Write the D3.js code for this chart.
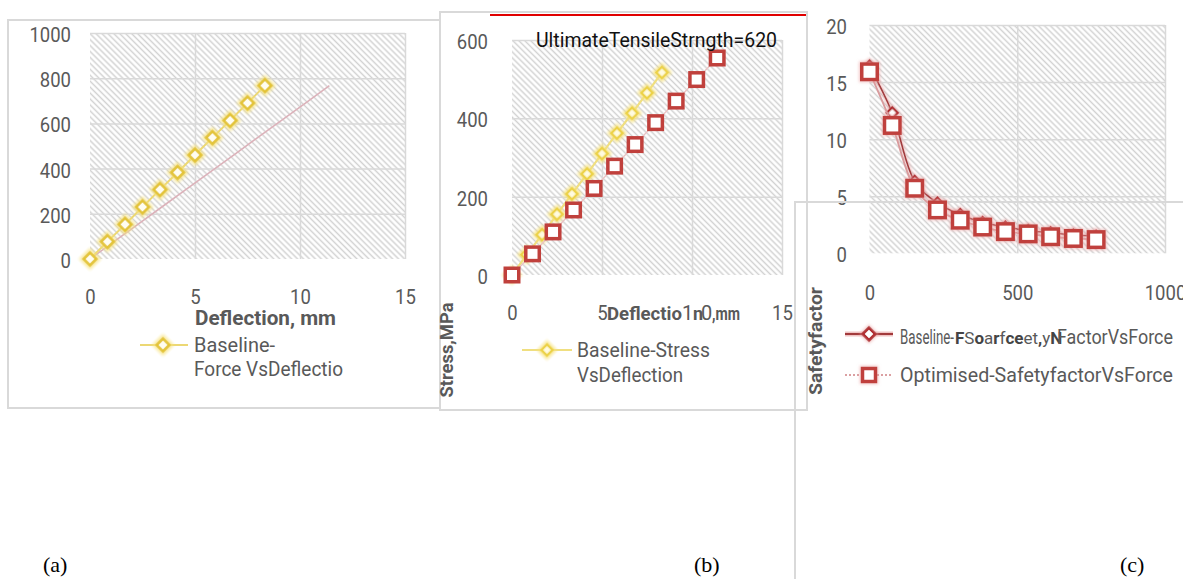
<!DOCTYPE html>
<html>
<head>
<meta charset="utf-8">
<script src="https://cdn.jsdelivr.net/npm/d3@7"></script>
<style>
  body { margin: 0; background: #fff; }
  svg text { font-family: Roboto, "Open Sans", sans-serif; }
</style>
</head>
<body>
<svg id="fig" width="1183" height="579"></svg>
<script>
// values
var deflBase = [0, 0.83, 1.67, 2.5, 3.33, 4.17, 5, 5.83, 6.67, 7.5, 8.33];
var deflOpt = [0, 1.14, 2.28, 3.42, 4.56, 5.7, 6.84, 7.98, 9.12, 10.26, 11.4];
var force = [0, 77, 153, 230, 307, 383, 460, 537, 613, 690, 767];
var stressBase = [0, 52, 103, 155, 207, 258, 310, 362, 413, 465, 517];
var stressOpt = [0, 54, 110, 166, 221, 278, 333, 389, 444, 499, 554];
var sfBase = [16.4, 12.3, 6.3, 4.4, 3.4, 2.7, 2.3, 2.0, 1.8, 1.6, 1.5];
var sfOpt = [15.9, 11.2, 5.7, 3.8, 2.9, 2.3, 1.9, 1.7, 1.45, 1.3, 1.2];

var deflTicks = [0, 5, 10, 15];
var forceTicks = [0, 200, 400, 600, 800, 1000];
var stressTicks = [0, 200, 400, 600];
var forceTicksC = [0, 500, 1000];
var sfTicks = [0, 5, 10, 15, 20];

var svg = d3.select('#fig');
var defs = svg.append('defs');

// wide downward diagonal hatch (excel style)
defs.append('pattern')
  .attr('id', 'hatch')
  .attr('patternUnits', 'userSpaceOnUse')
  .attr('width', 4.2).attr('height', 4.2)
  .attr('patternTransform', 'rotate(-45)')
  .append('line')
  .attr('x1', 2.1).attr('y1', 0).attr('x2', 2.1).attr('y2', 4.2)
  .attr('stroke', '#d2d2d2').attr('stroke-width', 1.5);

function glow(id, color, r, op) {
  var f = defs.append('filter').attr('id', id)
    .attr('x', '-60%').attr('y', '-60%').attr('width', '220%').attr('height', '220%');
  f.append('feMorphology').attr('in', 'SourceAlpha').attr('operator', 'dilate').attr('radius', r).attr('result', 'd');
  f.append('feGaussianBlur').attr('in', 'd').attr('stdDeviation', r).attr('result', 'b');
  f.append('feFlood').attr('flood-color', color).attr('flood-opacity', op).attr('result', 'c');
  f.append('feComposite').attr('in', 'c').attr('in2', 'b').attr('operator', 'in').attr('result', 'g');
  var m = f.append('feMerge');
  m.append('feMergeNode').attr('in', 'g');
  m.append('feMergeNode').attr('in', 'SourceGraphic');
}
glow('glowY', '#f7e27a', 1.6, 0.75);
glow('glowR', '#eba3a3', 1.4, 0.6);

var grey = '#595959';
var gridCol = '#d9d9d9';

function squeeze(sel, perChar) {
  sel.attr('textLength', function() { return this.textContent.length * perChar; })
    .attr('lengthAdjust', 'spacingAndGlyphs');
}

// hatched plot area, grid and tick labels
function makePlot(g, o) {
  var x = d3.scaleLinear().domain(o.xDom).range([o.left, o.right]);
  var y = d3.scaleLinear().domain(o.yDom).range([o.bottom, o.top]);

  g.append('rect')
    .attr('x', o.left).attr('y', o.top)
    .attr('width', o.right - o.left).attr('height', o.bottom - o.top)
    .attr('fill', 'url(#hatch)');

  g.append('g')
    .attr('transform', 'translate(' + o.left + ',0)')
    .call(d3.axisLeft(y).tickValues(o.yTicks.slice(1)).tickSize(-(o.right - o.left)).tickFormat(''))
    .call(function(a) { a.select('.domain').remove(); })
    .selectAll('line').attr('stroke', gridCol).attr('stroke-width', 1.5);

  g.append('g')
    .attr('transform', 'translate(0,' + o.bottom + ')')
    .call(d3.axisBottom(x).tickValues(o.xTicks.slice(1)).tickSize(-(o.bottom - o.top)).tickFormat(''))
    .call(function(a) { a.select('.domain').remove(); })
    .selectAll('line').attr('stroke', gridCol).attr('stroke-width', 1.5);

  var ya = g.append('g')
    .attr('transform', 'translate(' + o.yLabelX + ',0)')
    .call(d3.axisLeft(y).tickValues(o.yTicks).tickFormat(d3.format('d')).tickSize(0).tickPadding(0))
    .attr('font-size', 20).attr('font-family', null);
  ya.select('.domain').remove();
  ya.selectAll('text').attr('fill', grey).attr('dy', '0.42em').call(squeeze, 10.4);

  var xa = g.append('g')
    .attr('transform', 'translate(0,' + o.xBase + ')')
    .call(d3.axisBottom(x).tickValues(o.xTicks).tickFormat(d3.format('d')).tickSize(0).tickPadding(0))
    .attr('font-size', 20).attr('font-family', null);
  xa.select('.domain').remove();
  xa.selectAll('text').attr('fill', grey).attr('dy', 0).attr('y', 0).call(squeeze, 10.4);

  return {x: x, y: y, xAxis: xa};
}

function diamonds(g, pts, size, stroke, fill, sw, filter) {
  g.selectAll(null).data(pts).enter().append('path')
    .attr('d', d3.symbol().type(d3.symbolSquare).size(size))
    .attr('transform', function(d) { return 'translate(' + d[0] + ',' + d[1] + ') rotate(45)'; })
    .attr('fill', fill).attr('stroke', stroke).attr('stroke-width', sw)
    .attr('filter', filter);
}

function squares(g, pts, side, stroke, filter) {
  g.selectAll(null).data(pts).enter().append('rect')
    .attr('x', function(d) { return d[0] - side / 2; })
    .attr('y', function(d) { return d[1] - side / 2; })
    .attr('width', side).attr('height', side)
    .attr('fill', '#fff').attr('stroke', stroke).attr('stroke-width', 3.5)
    .attr('filter', filter);
}

function addText(g, txt, x, y, o) {
  var t = g.append('text').attr('x', x).attr('y', y).text(txt)
    .attr('font-size', o.size || 20).attr('fill', o.fill || grey);
  if (o.bold) t.attr('font-weight', 'bold');
  if (o.len) t.attr('textLength', o.len).attr('lengthAdjust', 'spacingAndGlyphs');
  if (o.anchor) t.attr('text-anchor', o.anchor);
  if (o.rot) t.attr('transform', 'rotate(-90,' + x + ',' + y + ')');
  return t;
}

// ---------- (a) Force vs deflection ----------
var ga = svg.append('g');
ga.append('rect').attr('x', 8).attr('y', 20).attr('width', 432).attr('height', 388)
  .attr('fill', '#fff').attr('stroke', gridCol).attr('stroke-width', 2);

var pa = makePlot(ga, {
  left: 90, right: 405, top: 33, bottom: 259,
  xDom: [0, 15], yDom: [0, 1000], xTicks: deflTicks, yTicks: forceTicks,
  yLabelX: 71, xBase: 304
});

var optA = deflOpt.map(function(d, i) { return [pa.x(d), pa.y(force[i])]; });
var baseA = deflBase.map(function(d, i) { return [pa.x(d), pa.y(force[i])]; });

ga.append('path').attr('d', d3.line()(optA))
  .attr('fill', 'none').attr('stroke', '#dcb2ba').attr('stroke-width', 1.6);
ga.append('path').attr('d', d3.line()(baseA))
  .attr('fill', 'none').attr('stroke', '#ecd874').attr('stroke-width', 2);
diamonds(ga, baseA, 80, '#e2c234', '#fffdf0', 2.6, 'url(#glowY)');

addText(ga, 'Deflection, mm', 195, 325, {bold: true, len: 141});
ga.append('line').attr('x1', 140).attr('x2', 188).attr('y1', 345).attr('y2', 345)
  .attr('stroke', '#ecd874').attr('stroke-width', 2);
diamonds(ga, [[163, 345]], 80, '#e2c234', '#fffdf0', 2.6, 'url(#glowY)');
addText(ga, 'Baseline-', 194, 352, {len: 81});
addText(ga, 'Force VsDeflectio', 194, 376, {len: 149});

// ---------- (b) Stress vs deflection ----------
var gb = svg.append('g');
gb.append('rect').attr('x', 440).attr('y', 12).attr('width', 367).attr('height', 398)
  .attr('fill', '#fff').attr('stroke', gridCol).attr('stroke-width', 2);

var pb = makePlot(gb, {
  left: 512, right: 782, top: 40, bottom: 275,
  xDom: [0, 15], yDom: [0, 600], xTicks: deflTicks, yTicks: stressTicks,
  yLabelX: 488, xBase: 320
});

// the "10" label is split around the axis title in the original
pb.xAxis.selectAll('text').filter(function(d) { return d === 10; })
  .text(null).attr('textLength', null)
  .call(function(t) {
    t.append('tspan').attr('x', -5).text('1');
    t.append('tspan').attr('x', 14).text('0');
  });

var baseB = deflBase.map(function(d, i) { return [pb.x(d), pb.y(stressBase[i])]; });
var optB = deflOpt.map(function(d, i) { return [pb.x(d), pb.y(stressOpt[i])]; });

gb.append('path').attr('d', d3.line()(baseB))
  .attr('fill', 'none').attr('stroke', '#f0df80').attr('stroke-width', 2.2);
diamonds(gb, baseB, 62, '#ecd24a', '#fffbe0', 2.4, 'url(#glowY)');
gb.append('path').attr('d', d3.line()(optB))
  .attr('fill', 'none').attr('stroke', '#ebc4c4').attr('stroke-width', 1.4);
squares(gb, optB, 13.5, '#c0403c', null);

addText(gb, 'UltimateTensileStrngth=620', 536, 47, {fill: '#111', len: 241});

var xtb = gb.append('text').attr('y', 320).attr('font-size', 18)
  .attr('font-weight', 'bold').attr('fill', grey);
xtb.append('tspan').attr('x', 607).attr('textLength', 75).attr('lengthAdjust', 'spacingAndGlyphs').text('Deflectio');
xtb.append('tspan').attr('x', 693).text('n');
xtb.append('tspan').attr('x', 712).attr('textLength', 28).attr('lengthAdjust', 'spacingAndGlyphs').text(',mm');

addText(gb, 'Stress,MPa', 453, 350, {bold: true, len: 95, size: 19, anchor: 'middle', rot: true});

gb.append('line').attr('x1', 522).attr('x2', 572).attr('y1', 350).attr('y2', 350)
  .attr('stroke', '#f0df80').attr('stroke-width', 2);
diamonds(gb, [[547, 350]], 62, '#ecd24a', '#fffbe0', 2.4, 'url(#glowY)');
addText(gb, 'Baseline-Stress', 577, 357, {len: 133});
addText(gb, 'VsDeflection', 577, 382, {len: 106});

// ultimate tensile strength marker line
svg.append('line').attr('x1', 490).attr('x2', 806).attr('y1', 15).attr('y2', 15)
  .attr('stroke', '#e00000').attr('stroke-width', 2);

// ---------- (c) Safety factor vs force ----------
var gc = svg.append('g');
var pc = makePlot(gc, {
  left: 869.5, right: 1165, top: 25, bottom: 253.3,
  xDom: [0, 1000], yDom: [0, 20], xTicks: forceTicksC, yTicks: sfTicks,
  yLabelX: 847, xBase: 300
});

gc.append('path').attr('d', 'M795,579V202H1183')
  .attr('fill', 'none').attr('stroke', gridCol).attr('stroke-width', 2);

var baseC = force.map(function(d, i) { return [pc.x(d), pc.y(sfBase[i])]; });
var optC = force.map(function(d, i) { return [pc.x(d), pc.y(sfOpt[i])]; });
var curve = d3.line().curve(d3.curveCatmullRom.alpha(0.5));

gc.append('path').attr('d', curve(baseC))
  .attr('fill', 'none').attr('stroke', '#a23a3c').attr('stroke-width', 1.6)
  .attr('filter', 'url(#glowR)');
diamonds(gc, baseC, 60, '#b02e30', '#fff', 2.4, 'url(#glowR)');
gc.append('path').attr('d', curve(optC))
  .attr('fill', 'none').attr('stroke', '#d99a9c').attr('stroke-width', 1.8);
squares(gc, optC, 15.5, '#c0403c', 'url(#glowR)');

addText(gc, 'Safetyfactor', 822, 341, {bold: true, len: 108, size: 19, anchor: 'middle', rot: true});

// legend, first entry is interleaved with the "Force,N" axis title in the original
gc.append('line').attr('x1', 845).attr('x2', 893).attr('y1', 334).attr('y2', 334)
  .attr('stroke', '#f0c4c4').attr('stroke-width', 5);
gc.append('line').attr('x1', 845).attr('x2', 893).attr('y1', 334).attr('y2', 334)
  .attr('stroke', '#a23a3c').attr('stroke-width', 2);
diamonds(gc, [[869, 334]], 80, '#b02e30', '#fff', 2.8, 'url(#glowR)');

var mixed = [['F', 1], ['S', 0], ['o', 1], ['a', 0], ['r', 1], ['f', 0], ['c', 1], ['e', 1],
  ['e', 0], ['t', 0], [',', 1], ['y', 0], ['N', 1]];
var lg1 = gc.append('text').attr('x', 900).attr('y', 344).attr('font-size', 20).attr('fill', grey);
lg1.append('tspan').attr('x', 900).attr('textLength', 54).attr('lengthAdjust', 'spacingAndGlyphs')
  .text('Baseline-');
lg1.selectAll('.mx').data(mixed).enter().append('tspan')
  .attr('class', 'mx')
  .attr('x', function(d, i) { return i === 0 ? 955 : null; })
  .attr('font-size', 17)
  .attr('font-weight', function(d) { return d[1] ? 'bold' : null; })
  .attr('fill', function(d) { return d[1] ? '#444' : grey; })
  .text(function(d) { return d[0]; });
lg1.append('tspan').attr('x', 1057).attr('textLength', 116).attr('lengthAdjust', 'spacingAndGlyphs')
  .text('FactorVsForce');

gc.append('line').attr('x1', 845).attr('x2', 893).attr('y1', 375).attr('y2', 375)
  .attr('stroke', '#dba0a2').attr('stroke-width', 2).attr('stroke-dasharray', '2,2');
squares(gc, [[869, 375]], 13, '#c0403c', 'url(#glowR)');
addText(gc, 'Optimised-SafetyfactorVsForce', 900, 382, {len: 273});

// panel letters
var letters = [['(a)', 43], ['(b)', 694], ['(c)', 1120]];
svg.selectAll('.panel').data(letters).enter().append('text')
  .attr('class', 'panel')
  .attr('x', function(d) { return d[1]; })
  .attr('y', 572)
  .attr('font-size', 22)
  .style('font-family', '"Liberation Serif", "Times New Roman", serif')
  .attr('fill', '#000')
  .text(function(d) { return d[0]; });
</script>
</body>
</html>
